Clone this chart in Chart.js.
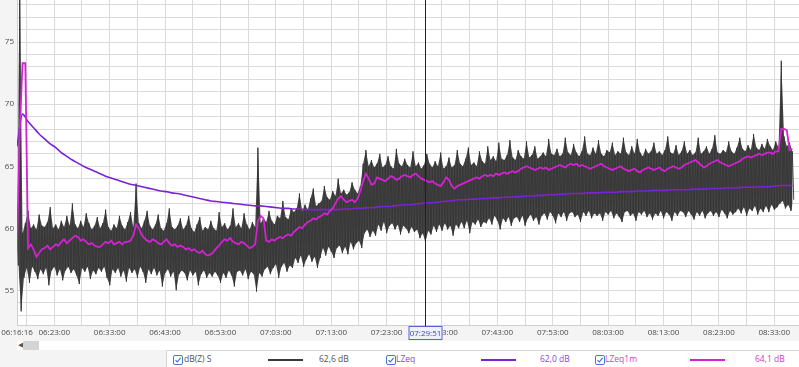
<!DOCTYPE html>
<html><head><meta charset="utf-8">
<script src="https://cdn.jsdelivr.net/npm/chart.js@4.4.1/dist/chart.umd.min.js"></script>
<style>
html,body{margin:0;padding:0;background:#f4f4f4;width:799px;height:367px;overflow:hidden;font-family:"Open Sans","Noto Sans",sans-serif;}
#wrap{position:absolute;left:0;top:0;width:799px;height:340px;}
#scroll{position:absolute;left:17px;top:341px;width:782px;height:9px;background:#ffffff;}
#arrow{position:absolute;left:18px;top:340px;font-size:7px;color:#555;line-height:10px;}
#thumb{position:absolute;left:23px;top:341px;width:16px;height:9px;background:#d4d4d4;}
#legend{position:absolute;left:166px;top:350px;width:633px;height:17px;background:#fff;border-top:1px solid #d6d6d6;border-left:1px solid #d6d6d6;}
.cb{position:absolute;top:4px;width:8px;height:8px;border:1px solid #4a78d0;border-radius:2px;background:#fff;}
.cb svg{position:absolute;left:0;top:0;}
.t{position:absolute;top:2px;font-size:8.5px;line-height:12px;white-space:nowrap;}
.ln{position:absolute;top:8px;height:1.5px;}
</style></head>
<body>
<div id="wrap"><canvas id="c" width="799" height="340" style="width:799px;height:340px"></canvas></div>
<div id="scroll"></div><div id="arrow">&#9664;</div><div id="thumb"></div>
<div id="legend"></div>
<script>
// ---- data ----
const startTime = '06:16:16';
const endTime = '08:37:28';
const cursorTime = '07:29:51';
const sampleStepSec = 30;      // dB(Z) S envelope + LZeq1m samples
const lzeqStepSec = 60;        // LZeq samples

const xTickLabels = ['06:16:16','06:23:00','06:33:00','06:43:00','06:53:00','07:03:00','07:13:00','07:23:00','07:33:00','07:43:00','07:53:00','08:03:00','08:13:00','08:23:00','08:33:00'];
const xGridTimes = ['06:18:00','06:23:00','06:28:00','06:33:00','06:38:00','06:43:00','06:48:00','06:53:00','06:58:00','07:03:00','07:08:00','07:13:00','07:18:00','07:23:00','07:28:00','07:33:00','07:38:00','07:43:00','07:48:00','07:53:00','07:58:00','08:03:00','08:08:00','08:13:00','08:18:00','08:23:00','08:28:00','08:33:00'];
const yTickValues = [53,54,55,56,57,58,59,60,61,62,63,64,65,66,67,68,69,70,71,72,73,74,75,76,77,78];
const yTickLabels = [55,60,65,70,75];

// dB(Z) S : upper (peaks) and lower (troughs) readings every 30 s
const dbzHigh = [
60.2,80.0,59.6,60.4,61.4,60.0,60.3,59.9,61.1,60.2,
60.1,60.5,61.7,60.0,60.3,59.9,60.6,60.1,61.0,60.2,
62.0,60.3,60.0,60.6,60.1,61.2,60.4,59.9,60.2,60.9,
60.0,60.4,61.5,60.1,59.8,60.3,60.0,61.0,60.2,59.9,
60.5,61.3,60.1,63.6,60.4,60.0,60.6,61.4,60.2,59.9,
60.3,61.1,60.0,59.8,60.4,61.6,60.1,59.9,60.2,60.8,
59.9,60.2,61.0,60.0,59.7,60.3,60.9,59.8,60.1,59.9,
60.6,60.0,59.8,61.3,60.1,60.4,59.9,60.2,61.6,60.1,
60.4,60.0,61.2,60.3,59.9,60.5,60.1,66.5,60.4,60.8,
60.5,61.4,60.6,60.3,61.0,60.8,62.2,60.9,60.7,61.6,
61.3,61.6,62.8,61.4,61.9,61.5,62.4,63.2,61.8,62.0,
62.2,63.4,62.5,62.3,63.0,62.6,64.0,62.8,63.1,62.7,
62.9,63.7,63.1,62.8,63.4,65.2,66.3,65.0,65.5,64.9,
65.2,66.0,64.9,65.1,65.8,65.0,64.8,66.4,65.2,65.0,
65.6,65.1,64.9,66.2,65.0,65.3,64.8,65.1,66.0,65.2,
64.9,65.4,65.0,66.1,64.8,65.0,65.7,64.9,65.1,66.3,
65.2,65.0,65.6,66.5,65.1,65.3,65.0,66.2,65.4,65.2,
66.6,65.5,65.8,65.4,66.9,65.6,65.5,65.9,67.1,65.7,
65.5,66.3,65.8,65.6,67.0,65.7,65.9,66.6,65.6,65.8,
66.1,65.8,67.2,66.0,65.9,66.4,65.8,66.0,67.3,66.1,
65.9,66.8,66.1,65.8,66.2,67.4,66.0,65.9,66.5,66.0,
67.1,66.0,65.8,66.3,66.1,66.9,65.9,66.2,66.0,67.3,
66.1,65.9,66.6,66.0,67.2,66.1,65.8,66.4,66.0,66.2,
66.9,66.0,66.2,65.9,66.3,67.4,66.1,66.0,66.7,65.9,
66.2,67.0,66.0,66.3,65.9,66.1,67.3,66.0,66.2,66.6,
66.0,66.4,67.5,66.1,66.0,66.3,66.1,67.0,66.2,66.0,
66.5,67.3,66.4,66.2,66.7,66.3,67.6,66.5,66.3,66.8,
66.4,67.2,66.6,66.3,67.0,66.5,73.5,67.4,66.6,66.9,
66.2];
const dbzLow = [
57.0,53.3,56.0,56.8,55.6,56.9,56.5,55.9,56.7,56.3,
56.8,55.4,56.6,56.9,56.2,56.7,55.8,56.6,56.9,56.4,
56.7,56.2,55.5,56.8,56.5,56.9,55.9,56.6,56.3,56.8,
56.5,56.9,56.0,55.4,56.7,56.4,56.8,56.1,56.6,55.7,
56.8,56.4,56.7,56.0,56.9,56.5,55.6,56.7,56.3,56.8,
56.2,56.6,55.3,56.4,56.7,56.1,56.5,55.0,56.3,56.6,
56.4,55.8,56.6,56.2,56.5,55.4,56.3,56.6,56.0,56.4,
56.1,56.5,56.2,55.6,56.4,56.0,56.6,56.2,55.3,56.5,
56.6,56.2,56.7,55.9,56.5,56.3,54.9,56.4,56.1,56.7,
56.9,56.3,56.8,57.1,56.0,56.9,57.2,56.5,57.0,56.8,
57.6,57.2,57.8,56.9,57.5,57.9,57.3,57.7,56.8,57.6,
58.4,57.8,58.5,58.1,57.6,58.4,58.6,58.0,58.5,57.9,
58.9,58.3,58.8,59.0,58.4,59.6,59.9,59.3,59.8,59.4,
60.3,59.8,60.5,59.6,60.2,60.4,59.9,60.3,59.5,60.2,
60.0,59.6,60.1,59.7,59.9,59.2,59.6,58.9,59.8,59.5,
60.2,59.7,60.3,59.8,60.4,59.9,60.2,59.4,60.3,60.0,
60.5,60.0,60.6,59.6,60.5,60.3,60.7,60.1,60.5,60.4,
60.8,60.3,61.0,60.6,59.9,60.8,60.5,60.9,60.2,60.8,
60.9,60.5,61.0,60.2,60.8,61.1,60.6,60.9,60.3,61.0,
61.2,60.7,61.3,61.0,60.4,61.2,60.9,61.3,60.6,61.2,
61.3,60.9,61.1,60.5,61.3,61.0,61.4,60.8,61.2,61.0,
61.2,60.6,61.3,61.1,61.4,60.8,61.2,60.9,60.5,61.3,
61.4,61.0,61.2,60.6,61.3,61.1,61.4,60.9,61.2,60.7,
61.2,61.0,61.4,60.8,61.3,61.1,60.6,61.3,61.0,61.4,
61.3,60.9,61.4,61.1,60.7,61.3,61.0,61.4,60.8,61.2,
61.4,61.0,61.3,60.9,61.5,61.2,60.8,61.4,61.1,61.3,
61.6,61.2,61.7,61.0,61.6,61.4,61.8,61.1,61.6,61.3,
61.8,61.3,61.9,61.5,61.7,62.0,62.2,61.6,61.9,61.4,
62.3];

// LZeq1m every 30 s
const lzeq1m = [
58.5,68.0,73.3,73.3,58.4,58.7,58.3,57.7,58.0,58.3,
58.4,58.6,58.3,58.5,58.7,58.6,58.9,59.1,58.8,59.0,
59.2,59.4,59.3,59.0,59.1,58.9,58.7,58.8,58.6,58.5,
58.5,58.7,58.9,58.8,59.0,58.7,58.8,58.9,58.7,58.9,
58.9,59.0,59.4,60.3,60.0,59.5,59.2,59.0,58.9,59.1,
59.0,58.8,58.7,58.9,59.1,58.8,58.6,58.7,58.5,58.6,
58.5,58.3,58.4,58.2,58.3,58.1,58.0,58.2,57.9,57.8,
57.9,58.1,58.4,58.6,58.9,59.1,59.0,59.2,58.9,58.8,
58.7,58.9,58.8,58.6,58.4,58.5,58.7,60.6,61.0,60.8,
59.0,58.9,59.1,59.0,59.2,59.3,59.2,59.4,59.5,59.4,
59.7,59.9,60.1,60.0,60.3,60.5,60.6,60.8,60.7,60.9,
61.0,61.2,61.1,61.4,61.6,62.0,62.4,62.6,62.3,62.1,
62.2,62.3,62.1,62.4,63.0,63.8,64.4,64.0,63.5,63.6,
64.1,64.0,63.9,63.8,64.0,64.2,64.1,63.9,64.0,64.2,
64.3,64.2,64.1,64.3,64.4,64.2,64.0,63.9,63.8,63.7,
63.8,63.6,63.5,63.4,63.7,64.1,63.9,63.4,63.2,63.4,
63.5,63.6,63.7,63.8,63.9,64.0,64.1,64.0,64.2,64.3,
64.2,64.3,64.2,64.4,64.3,64.4,64.5,64.4,64.5,64.6,
64.5,64.6,64.8,64.9,65.0,64.9,64.8,64.7,64.8,64.9,
64.8,64.9,64.7,64.8,64.9,65.0,65.1,65.0,64.9,65.1,
65.2,65.1,65.2,65.0,65.1,65.0,64.9,64.8,64.9,65.0,
65.1,65.2,65.0,64.9,64.8,64.7,64.8,64.9,65.0,64.8,
64.7,64.6,64.7,64.8,64.6,64.5,64.7,64.8,64.9,64.8,
64.7,64.8,64.9,64.7,64.6,64.8,64.9,65.0,64.9,64.8,
64.9,65.1,65.2,65.3,65.4,65.5,65.3,65.1,64.9,65.0,
65.2,65.3,65.4,65.5,65.3,65.2,65.1,65.0,65.1,65.2,
65.3,65.4,65.6,65.7,65.8,65.7,65.8,65.9,66.0,65.9,
66.0,66.1,66.1,66.0,66.2,66.2,68.0,68.0,67.9,66.3,
66.4];

// LZeq (running Leq) every minute
const lzeq = [
66.6,69.2,68.6,68.1,67.6,67.2,66.8,66.5,66.1,65.8,
65.5,65.25,65.0,64.8,64.6,64.4,64.2,64.05,63.9,63.75,
63.6,63.5,63.4,63.3,63.2,63.1,63.0,62.95,62.85,62.8,
62.7,62.6,62.5,62.4,62.3,62.2,62.15,62.1,62.05,62.0,
61.95,61.9,61.85,61.8,61.8,61.75,61.7,61.65,61.6,61.6,
61.55,61.55,61.5,61.5,61.5,61.5,61.5,61.5,61.5,61.55,
61.55,61.6,61.6,61.65,61.65,61.7,61.75,61.75,61.8,61.85,
61.9,61.9,61.95,62.0,62.05,62.05,62.1,62.15,62.2,62.25,
62.3,62.3,62.35,62.35,62.4,62.4,62.45,62.45,62.5,62.5,
62.55,62.55,62.6,62.6,62.65,62.65,62.7,62.7,62.75,62.75,
62.8,62.8,62.8,62.85,62.85,62.85,62.9,62.9,62.9,62.95,
62.95,62.95,63.0,63.0,63.0,63.05,63.05,63.05,63.1,63.1,
63.1,63.1,63.15,63.15,63.15,63.2,63.2,63.2,63.25,63.25,
63.25,63.3,63.3,63.3,63.35,63.35,63.35,63.4,63.45,63.45,
63.45];

const seriesNames = ['dB(Z) S','LZeq','LZeq1m'];
const seriesValues = ['62,6 dB','62,0 dB','64,1 dB'];
const seriesColors = ['#3a3a3a','#7a22d6','#d321d3'];
const legendTextColors = ['#505050','#8a45dc','#cc3ccc'];

// ---- helpers ----
function toSec(s){const p=s.split(':').map(Number);return p[0]*3600+p[1]*60+p[2];}
function fmt(v){v=Math.round(v);const h=Math.floor(v/3600),m=Math.floor(v%3600/60),s=v%60;return [h,m,s].map(n=>String(n).padStart(2,'0')).join(':');}
const t0 = toSec(startTime);

const dbzPts = [];
dbzHigh.forEach((v,i)=>{dbzPts.push({x:t0+i*sampleStepSec,y:v});dbzPts.push({x:t0+i*sampleStepSec+sampleStepSec/2,y:dbzLow[i]});});
const hiPts = dbzHigh.map((v,i)=>({x:t0+i*sampleStepSec,y:v}));
const loPts = dbzLow.map((v,i)=>({x:t0+i*sampleStepSec+sampleStepSec/2,y:v}));
const lzeq1mPts = lzeq1m.map((v,i)=>({x:t0+i*sampleStepSec,y:v}));
const lzeqPts = lzeq.map((v,i)=>({x:t0+i*lzeqStepSec,y:v}));

const FONT = {family:'"Open Sans","Noto Sans",sans-serif', size:8};

const plotBg = {id:'plotBg', beforeDraw(c){const a=c.chartArea,ctx=c.ctx;ctx.save();ctx.fillStyle='#ffffff';ctx.fillRect(a.left,a.top,a.right-a.left,a.bottom-a.top);ctx.restore();}};
const cursor = {id:'cursor',
 afterDatasetsDraw(c){const a=c.chartArea,ctx=c.ctx;const px=Math.round(c.scales.x.getPixelForValue(toSec(cursorTime)))+0.5;
   ctx.save();ctx.strokeStyle='#202020';ctx.lineWidth=1;ctx.beginPath();ctx.moveTo(px,a.top);ctx.lineTo(px,a.bottom+1);ctx.stroke();ctx.restore();},
 afterDraw(c){const a=c.chartArea,ctx=c.ctx;const px=Math.round(c.scales.x.getPixelForValue(toSec(cursorTime)))+0.5;
   ctx.save();ctx.fillStyle='#eef1fc';ctx.fillRect(px-16.5,a.bottom+1.5,33,13);ctx.strokeStyle='#5566cc';ctx.lineWidth=1;ctx.strokeRect(px-16.5,a.bottom+1.5,33,13);
   ctx.fillStyle='#3a48b0';ctx.font='8px "Open Sans","Noto Sans",sans-serif';ctx.textAlign='center';ctx.textBaseline='middle';ctx.fillText(cursorTime,px,a.bottom+8.5);ctx.restore();}
};

new Chart(document.getElementById('c'),{
 type:'line',
 data:{datasets:[
  {label:seriesNames[2],data:lzeq1mPts,borderColor:seriesColors[2],borderWidth:1.8,pointRadius:0,order:1},
  {label:seriesNames[1],data:lzeqPts,borderColor:seriesColors[1],borderWidth:1.6,pointRadius:0,order:2,cubicInterpolationMode:'monotone'},
  {label:seriesNames[0],data:dbzPts,borderColor:'#363636',borderWidth:0.9,pointRadius:0,order:3},
  {label:'env-hi',data:hiPts,borderWidth:0,borderColor:'rgba(0,0,0,0)',pointRadius:0,fill:false,order:4},
  {label:'env-lo',data:loPts,borderWidth:0,borderColor:'rgba(0,0,0,0)',pointRadius:0,fill:'-1',backgroundColor:'#464646',order:4}
 ]},
 options:{responsive:false,animation:false,events:[],
  layout:{padding:0},
  plugins:{legend:{display:false},tooltip:{enabled:false},filler:{propagate:false}},
  scales:{
   x:{type:'linear',min:t0,max:toSec(endTime),
      grid:{color:'#dadada',lineWidth:1,drawTicks:false},border:{color:'#cfcfcf'},
      ticks:{autoSkip:false,maxRotation:0,minRotation:0,padding:3,color:'#4a4a4a',font:FONT,
        callback:(v)=>{const s=fmt(v);return xTickLabels.includes(s)?s:'';}},
      afterBuildTicks:(s)=>{s.ticks=[t0].concat(xGridTimes.map(toSec)).map(v=>({value:v}));},
      afterFit:(s)=>{s.height=15;s.paddingLeft=0;s.paddingRight=0;}},
   y:{type:'linear',min:52.2,max:78.4,
      grid:{color:'#dadada',lineWidth:1,drawTicks:false},border:{color:'#cfcfcf'},
      ticks:{padding:3,color:'#4a4a4a',font:FONT,callback:(v)=>yTickLabels.includes(v)?String(v):''},
      afterBuildTicks:(s)=>{s.ticks=yTickValues.map(v=>({value:v}));},
      afterFit:(s)=>{s.width=17;s.paddingTop=0;s.paddingBottom=0;}}
  }
 },
 plugins:[plotBg,cursor]
});

// ---- legend row ----
const lg = document.getElementById('legend');
const pos = [[6,17,101,152],[219,229,314,373],[428,438,523,588]];
const check = '<svg width="8" height="8" viewBox="0 0 8 8"><path d="M1.5 4.2 L3.3 6 L6.6 1.8" fill="none" stroke="#3a6cc8" stroke-width="1.1"/></svg>';
seriesNames.forEach((n,i)=>{
 const p=pos[i];
 lg.insertAdjacentHTML('beforeend',
  `<span class="cb" style="left:${p[0]}px">${check}</span>`+
  `<span class="t" style="left:${p[1]}px;color:${legendTextColors[i]}">${n}</span>`+
  `<span class="ln" style="left:${p[2]}px;width:35px;background:${seriesColors[i]}"></span>`+
  `<span class="t" style="left:${p[3]}px;color:${legendTextColors[i]}">${seriesValues[i]}</span>`);
});
</script>
</body></html>
